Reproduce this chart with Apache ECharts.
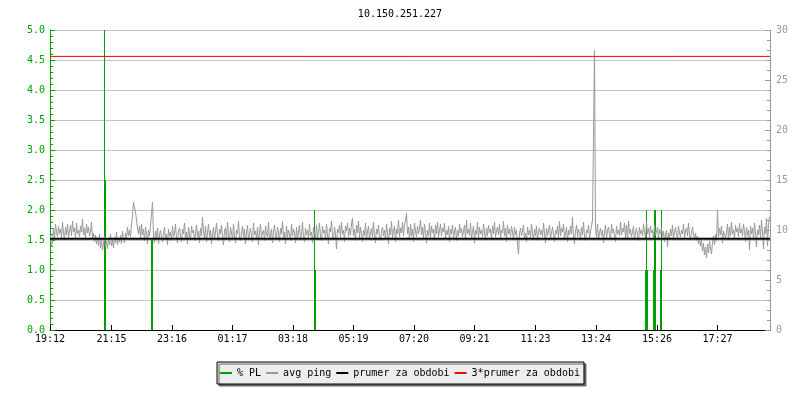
<!DOCTYPE html>
<html>
<head>
<meta charset="utf-8">
<script src="https://cdn.jsdelivr.net/npm/echarts@6/dist/echarts.min.js"></script>
<style>
  html, body { margin: 0; padding: 0; background: #fff; }
  #chart { width: 800px; height: 400px; }
</style>
</head>
<body>
<div id="chart"></div>
<script>
// time labels on the x axis (start of the graph is 19:12, span 24 h)
const startTime = '19:12'
const spanMinutes = 1440
const timeLabels = ['19:12', '21:15', '23:16', '01:17', '03:18', '05:19', '07:20', '09:21', '11:23', '13:24', '15:26', '17:27']

// avg ping [ms], one sample every 2 minutes
const pingStep = 2
const avgPing = [
  9.4, 8.3, 8.9, 10.2, 9.1, 10.6, 9.8, 9.3, 10.4, 9.6,
  10.1, 9.2, 10.8, 9.7, 9.0, 10.3, 9.5, 10.6, 9.2, 9.9,
  10.5, 9.4, 10.9, 9.8, 10.2, 9.1, 10.7, 9.6, 10.0, 9.3,
  10.4, 9.8, 11.1, 9.5, 10.2, 9.0, 10.6, 9.7, 10.3, 9.4,
  9.9, 10.8, 9.2, 9.7, 8.8, 9.5, 8.6, 9.3, 8.4, 9.6,
  8.2, 9.1, 8.0, 8.7, 9.4, 8.3, 8.9, 8.1, 9.2, 8.5,
  9.6, 8.4, 9.0, 8.2, 9.3, 8.7, 9.8, 8.5, 9.1, 8.8,
  9.5, 8.6, 9.9, 9.0, 8.7, 9.7, 9.2, 10.3, 9.4, 10.0,
  9.3, 10.5, 11.4, 12.8, 12.2, 11.8, 11.0, 10.2, 9.6, 10.4,
  9.2, 10.6, 9.5, 10.1, 8.9, 10.3, 9.7, 8.6, 10.0, 9.4,
  10.5, 11.6, 12.8, 9.3, 8.7, 9.9, 9.1, 10.2, 8.6, 9.5,
  10.0, 9.2, 8.8, 9.7, 10.3, 9.0, 9.6, 8.5, 10.1, 9.4,
  9.8, 8.9, 10.4, 9.3, 9.7, 10.6, 9.1, 8.7, 9.9, 10.2,
  9.4, 8.8, 10.1, 9.6, 10.7, 9.2, 9.8, 8.6, 10.3, 9.5,
  9.0, 10.4, 9.7, 10.0, 8.9, 9.6, 10.5, 9.3, 9.9, 8.7,
  10.2, 9.4, 11.3, 9.8, 9.1, 10.4, 8.8, 9.7, 10.6, 9.3,
  10.0, 8.6, 9.5, 10.3, 9.1, 9.8, 10.7, 9.4, 8.9, 10.1,
  9.6, 10.5, 9.2, 8.5, 9.9, 10.2, 9.0, 10.8, 9.5, 8.8,
  10.3, 9.7, 9.1, 10.6, 9.4, 8.7, 10.0, 9.6, 10.9, 9.2,
  8.9, 9.8, 10.4, 9.3, 10.1, 8.6, 9.7, 10.5, 9.0, 9.6,
  10.2, 9.4, 8.8, 10.7, 9.5, 9.9, 9.1, 10.3, 8.5, 9.8,
  10.6, 9.2, 9.7, 10.0, 8.9, 10.4, 9.6, 9.3, 10.8, 9.0,
  9.5, 10.1, 8.7, 9.9, 10.5, 9.4, 9.0, 10.3, 9.7, 8.8,
  10.2, 9.6, 10.9, 9.1, 9.8, 8.6, 10.4, 9.3, 10.0, 9.5,
  8.9, 10.6, 9.4, 10.1, 9.7, 8.7, 10.3, 9.2, 9.9, 10.5,
  9.0, 9.6, 10.8, 9.3, 8.8, 10.2, 9.5, 10.0, 9.1, 10.6,
  9.4, 9.8, 8.7, 10.3, 9.6, 9.2, 10.5, 9.0, 9.9, 10.7,
  9.3, 8.9, 10.4, 9.7, 10.0, 9.1, 10.6, 9.5, 8.6, 10.2,
  9.8, 10.9, 9.4, 9.0, 10.3, 9.6, 8.1, 10.1, 9.7, 10.5,
  9.2, 10.8, 9.6, 10.0, 8.8, 10.4, 9.9, 10.7, 9.3, 10.2,
  9.5, 10.6, 11.2, 9.4, 10.1, 8.9, 10.5, 9.7, 10.9, 9.2,
  10.3, 9.6, 8.8, 10.0, 9.4, 10.7, 9.1, 9.8, 10.4, 9.0,
  9.7, 10.2, 9.3, 10.8, 9.5, 8.7, 10.1, 9.6, 10.5, 9.2,
  8.9, 9.8, 10.3, 9.4, 10.0, 9.1, 10.6, 9.7, 8.6, 10.2,
  9.5, 10.9, 9.2, 9.9, 10.4, 8.8, 10.1, 9.6, 11.0, 9.3,
  10.2, 9.7, 10.8, 9.4, 10.5, 11.0, 11.7, 9.6, 10.3, 9.0,
  10.6, 9.4, 10.1, 8.8, 10.7, 9.9, 9.3, 10.4, 9.6, 10.2,
  11.0, 9.5, 10.3, 9.1, 10.6, 9.8, 8.7, 10.0, 9.4, 10.7,
  9.2, 10.4, 9.7, 10.1, 8.9, 10.5, 9.6, 10.8, 9.3, 9.9,
  10.6, 9.4, 10.2, 9.8, 10.7, 9.1, 10.0, 9.5, 10.4, 8.8,
  10.1, 9.6, 10.5, 9.2, 9.8, 10.3, 8.9, 10.0, 9.4, 10.6,
  9.7, 10.2, 9.3, 9.9, 10.5, 9.0, 11.0, 9.6, 10.1, 9.4,
  10.7, 9.2, 9.8, 10.4, 8.7, 10.0, 9.5, 10.8, 9.1, 10.3,
  9.6, 10.0, 9.3, 10.6, 9.8, 8.9, 10.2, 9.4, 10.5, 9.7,
  10.1, 9.0, 10.4, 9.6, 10.8, 9.3, 9.9, 10.3, 9.5, 10.6,
  9.2, 10.0, 9.7, 10.9, 9.4, 10.2, 8.8, 10.5, 9.6, 10.1,
  9.3, 10.4, 9.8, 9.0, 10.3, 9.5, 10.0, 8.6, 7.6, 9.7,
  10.2, 9.4, 9.9, 10.5, 9.1, 9.7, 8.8, 10.3, 9.5, 10.0,
  9.2, 10.6, 9.6, 9.0, 10.1, 9.4, 10.4, 8.9, 9.8, 10.2,
  9.5, 10.0, 9.3, 10.7, 9.6, 8.7, 10.2, 9.4, 9.9, 10.5,
  9.1, 9.7, 10.3, 9.5, 8.8, 10.0, 9.6, 10.4, 9.2, 10.9,
  9.4, 10.2, 9.8, 10.6, 9.0, 9.7, 10.3, 8.8, 10.0, 9.5,
  10.4, 9.6, 11.3, 9.2, 8.6, 9.9, 10.5, 9.3, 10.1, 9.7,
  9.0, 10.3, 9.5, 10.8, 9.4, 8.9, 10.0, 9.7, 10.5, 9.2,
  9.8, 10.4, 11.0, 19.3, 28.0, 10.1, 9.3, 10.6, 9.0, 9.7,
  10.2, 9.4, 10.0, 8.7, 9.8, 10.5, 9.2, 9.9, 10.3, 9.5,
  9.1, 10.6, 9.7, 10.1, 9.3, 8.8, 10.4, 9.6, 10.0, 9.4,
  10.8, 9.5, 10.2, 9.8, 10.7, 9.2, 10.5, 9.0, 10.9, 9.6,
  10.1, 9.3, 9.8, 10.4, 9.0, 9.7, 10.2, 9.5, 8.9, 10.3,
  9.6, 10.0, 9.4, 10.6, 9.8, 9.1, 10.8, 9.6, 10.2, 9.3,
  10.4, 9.7, 10.0, 9.2, 10.5, 9.5, 9.8, 10.3, 9.0, 10.1,
  9.6, 10.2, 9.3, 9.9, 8.8, 9.5, 10.0, 8.3, 9.7, 9.2,
  10.1, 9.4, 10.5, 9.0, 9.8, 10.3, 9.6, 9.1, 10.4, 9.7,
  9.3, 10.0, 9.6, 10.6, 9.2, 9.9, 10.2, 9.4, 10.7, 9.5,
  9.0, 9.8, 10.3, 9.5, 9.1, 9.7, 8.9, 9.4, 8.6, 9.2,
  8.4, 9.0, 7.9, 8.7, 7.5, 8.3, 7.2, 8.6, 7.7, 8.9,
  8.1, 7.6, 8.8, 9.4, 8.5, 9.6, 8.9, 12.0, 9.3, 10.2,
  9.5, 10.4, 8.7, 9.9, 10.1, 9.2, 9.7, 10.6, 9.0, 10.3,
  9.4, 10.8, 9.6, 10.0, 9.1, 10.5, 9.8, 10.2, 9.3, 10.7,
  9.7, 10.1, 9.4, 10.6, 9.9, 8.8, 10.3, 9.5, 10.0, 8.0,
  10.4, 9.6, 10.2, 9.1, 10.7, 9.7, 8.3, 10.0, 9.5, 10.5,
  9.2, 11.0, 9.8, 8.1, 10.3, 9.6, 11.2, 8.4, 10.6, 11.3
]

// packet loss [%]: minute from start, value
const plMinutes = [109, 111, 203, 205, 529, 531, 1191, 1193, 1195, 1207, 1209, 1211, 1221, 1223]
const plValues = [5.0, 2.5, 1.5, 1.5, 2.0, 1.0, 1.0, 2.0, 1.0, 1.0, 2.0, 2.0, 1.0, 2.0]

// average over the period [ms]
const periodAvg = 9.12

const GREEN = '#00a000'
const GRAY = '#999999'
const FONT = 'DejaVu Sans Mono'

const toMin = t => {
  const [h, m] = t.split(':').map(Number)
  return h * 60 + m
}
const tickMinutes = timeLabels.map(t => (toMin(t) - toMin(startTime) + 1440) % 1440)

const pingData = avgPing.map((v, i) => [i * pingStep + 1, v])
const plData = plMinutes.map((m, i) => [m, plValues[i]])

const chart = echarts.init(document.getElementById('chart'))
const option = {
  animation: false,
  backgroundColor: '#fff',
  title: {
    text: '10.150.251.227',
    left: 'center',
    top: 4,
    textStyle: { fontFamily: FONT, fontSize: 10, fontWeight: 'normal', color: '#000' }
  },
  legend: {
    bottom: 16,
    left: 'center',
    icon: 'rect',
    itemWidth: 12,
    itemHeight: 2,
    itemGap: 5,
    padding: [6, 4, 6, 3],
    backgroundColor: '#ededed',
    borderColor: '#000',
    borderWidth: 1,
    shadowColor: '#666',
    shadowOffsetX: 2,
    shadowOffsetY: 2,
    textStyle: { fontFamily: FONT, fontSize: 10, color: '#000' },
    data: ['% PL', 'avg ping', 'prumer za obdobi', '3*prumer za obdobi']
  },
  grid: { left: 50, right: 30, top: 30, bottom: 70 },
  xAxis: {
    type: 'value',
    min: 0,
    max: spanMinutes,
    axisLine: { lineStyle: { color: '#000', width: 1 } },
    axisTick: { show: true, inside: true, length: 5, customValues: tickMinutes, lineStyle: { color: '#000' } },
    axisLabel: {
      customValues: tickMinutes,
      margin: 4,
      fontFamily: FONT,
      fontSize: 10,
      color: '#000',
      formatter: v => {
        const i = tickMinutes.indexOf(v)
        return i >= 0 ? timeLabels[i] : ''
      }
    },
    splitLine: { show: false }
  },
  yAxis: [
    {
      type: 'value',
      min: 0,
      max: 5,
      interval: 0.5,
      axisLine: { show: true, lineStyle: { color: GREEN } },
      axisTick: { show: true, inside: true, length: 5, lineStyle: { color: GREEN } },
      minorTick: { show: true, splitNumber: 5, length: 3, lineStyle: { color: GREEN } },
      axisLabel: { margin: 5, fontFamily: FONT, fontSize: 10, color: GREEN, formatter: v => v.toFixed(1) },
      splitLine: { show: true, lineStyle: { color: '#c4c4c4', width: 1 } }
    },
    {
      type: 'value',
      position: 'right',
      min: 0,
      max: 30,
      interval: 5,
      axisLine: { show: true, lineStyle: { color: GRAY } },
      axisTick: { show: true, inside: true, length: 5, lineStyle: { color: GRAY } },
      minorTick: { show: true, splitNumber: 5, length: 3, lineStyle: { color: GRAY } },
      axisLabel: { margin: 6, fontFamily: FONT, fontSize: 10, color: GRAY },
      splitLine: { show: false }
    }
  ],
  series: [
    {
      name: '% PL',
      type: 'bar',
      yAxisIndex: 0,
      barWidth: 1,
      itemStyle: { color: GREEN },
      data: plData,
      z: 1
    },
    {
      name: 'avg ping',
      type: 'line',
      yAxisIndex: 1,
      symbol: 'none',
      lineStyle: { color: GRAY, width: 1 },
      itemStyle: { color: GRAY },
      data: pingData,
      z: 2
    },
    {
      name: 'prumer za obdobi',
      type: 'line',
      yAxisIndex: 1,
      symbol: 'none',
      lineStyle: { color: '#000', width: 2 },
      itemStyle: { color: '#000' },
      data: [[0, periodAvg], [spanMinutes, periodAvg]],
      z: 3
    },
    {
      name: '3*prumer za obdobi',
      type: 'line',
      yAxisIndex: 1,
      symbol: 'none',
      lineStyle: { color: '#ff0000', width: 1 },
      itemStyle: { color: '#ff0000' },
      data: [[0, periodAvg * 3], [spanMinutes, periodAvg * 3]],
      z: 3
    }
  ]
}
chart.setOption(option)
window.addEventListener('resize', () => chart.resize())
</script>
</body>
</html>
